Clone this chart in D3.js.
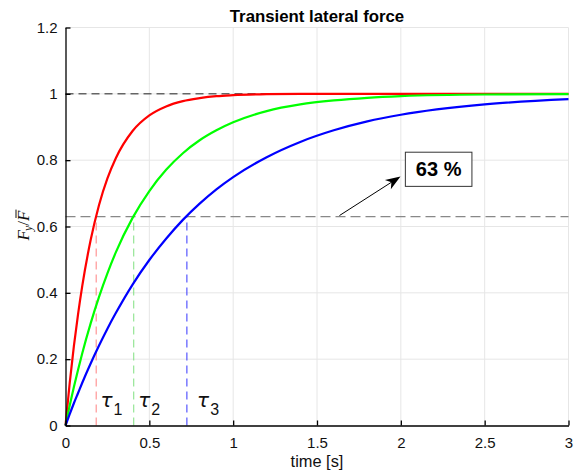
<!DOCTYPE html>
<html><head><meta charset="utf-8">
<script src="https://cdn.jsdelivr.net/npm/d3@7"></script>
<style>body{margin:0;background:#fff}svg{display:block}</style>
</head><body>
<script>
// ---- data ----
const time   = [0,0.025,0.05,0.075,0.1,0.15,0.2,0.25,0.3,0.4,0.5,0.6,0.7,0.8,0.9,1.0,1.2,1.4,1.6,1.8,2.0,2.5,3.0];
const redY   = [0,0.128,0.239,0.336,0.421,0.559,0.665,0.745,0.806,0.888,0.935,0.962,0.978,0.987,0.993,0.996,0.999,1.0,1.0,1.0,1.0,1.0,1.0];
const greenY = [0,0.060,0.116,0.168,0.218,0.308,0.388,0.459,0.522,0.626,0.707,0.771,0.821,0.860,0.890,0.914,0.948,0.968,0.980,0.988,0.993,0.998,0.999];
const blueY  = [0,0.034,0.067,0.098,0.129,0.187,0.241,0.292,0.339,0.425,0.499,0.563,0.620,0.669,0.712,0.749,0.809,0.855,0.890,0.917,0.937,0.968,0.984];
const tauValues = [0.183,0.407,0.724];
const tauColors = ["#ff8080","#80e080","#3333ff"];
const tauLabels = ["1","2","3"];
const tauLabelX = [0.209,0.434,0.785];
const level63 = 0.63;
const xTicks = [0,0.5,1,1.5,2,2.5,3];
const xTickLabels = ["0","0.5","1","1.5","2","2.5","3"];
const yTicks = [0,0.2,0.4,0.6,0.8,1,1.2];
const yTickLabels = ["0","0.2","0.4","0.6","0.8","1","1.2"];
const annotText = "63 %";

const W=578,H=475;
const svg=d3.select("body").append("svg").attr("width",W).attr("height",H);
const x=d3.scaleLinear().domain([0,3]).range([65.5,568.5]);
const y=d3.scaleLinear().domain([0,1.2]).range([425.5,27.5]);
const font="'Liberation Sans', Arial, Helvetica, sans-serif";

// grid
const g=svg.append("g");
g.selectAll(".gx").data(xTicks.slice(1)).enter().append("line")
 .attr("x1",d=>x(d)).attr("x2",d=>x(d)).attr("y1",y(0)).attr("y2",y(1.2))
 .attr("stroke","#e6e6e6").attr("stroke-width",1);
g.selectAll(".gy").data(yTicks.slice(1)).enter().append("line")
 .attr("x1",x(0)).attr("x2",x(3)).attr("y1",d=>y(d)).attr("y2",d=>y(d))
 .attr("stroke","#e6e6e6").attr("stroke-width",1);

// reference lines
svg.append("line").attr("x1",x(0)).attr("x2",x(3)).attr("y1",y(1)).attr("y2",y(1))
 .attr("stroke","#222").attr("stroke-width",1).attr("stroke-dasharray","8,5");
svg.append("line").attr("x1",x(0)).attr("x2",x(3)).attr("y1",y(level63)).attr("y2",y(level63))
 .attr("stroke","#888").attr("stroke-width",1.3).attr("stroke-dasharray","10,5");
tauValues.forEach((t,i)=>{
  svg.append("line").attr("x1",x(t)).attr("x2",x(t)).attr("y1",y(0)).attr("y2",y(level63))
   .attr("stroke",tauColors[i]).attr("stroke-width",1).attr("stroke-dasharray","8,5");
});

// curves
const line=d3.line().x(d=>x(d[0])).y(d=>y(d[1])).curve(d3.curveMonotoneX);
[[redY,"#ff0000"],[greenY,"#00ff00"],[blueY,"#0000ff"]].forEach(([ys,c])=>{
  svg.append("path").datum(time.map((t,i)=>[t,ys[i]])).attr("d",line)
   .attr("fill","none").attr("stroke",c).attr("stroke-width",2.2);
});

// axes
const xa=d3.axisBottom(x).tickValues(xTicks).tickFormat((d,i)=>xTickLabels[i]).tickSizeInner(-5).tickSizeOuter(0).tickPadding(12);
const ya=d3.axisLeft(y).tickValues(yTicks).tickFormat((d,i)=>yTickLabels[i]).tickSizeInner(-5).tickSizeOuter(0).tickPadding(8);
const gx=svg.append("g").attr("transform",`translate(0,${y(0)})`).call(xa);
const gy=svg.append("g").attr("transform",`translate(${x(0)},0)`).call(ya);
[gx,gy].forEach(a=>{
  a.select(".domain").attr("stroke","#000").attr("stroke-width",1.3);
  a.selectAll(".tick line").attr("stroke","#000").attr("stroke-width",1.3);
  a.selectAll(".tick text").attr("font-family",font).attr("font-size",15).attr("fill","#111");
});

// tau labels
tauLabels.forEach((s,i)=>{
  const t=svg.append("text").attr("x",x(tauLabelX[i])).attr("y",y(0)-19)
   .attr("font-family","'DejaVu Sans', sans-serif").attr("fill","#111");
  t.append("tspan").attr("font-size",20).attr("font-style","italic").text("τ");
  t.append("tspan").attr("font-size",16).attr("dy",8).attr("dx",1).attr("font-family",font).text(s);
});

// annotation
const ax0=x(1.634),ay0=y(0.633),ax1=x(1.998),ay1=y(0.751);
const ang=Math.atan2(ay1-ay0,ax1-ax0);
const hl=15,hw=5.5;
svg.append("line").attr("x1",ax0).attr("y1",ay0).attr("x2",ax1-Math.cos(ang)*10).attr("y2",ay1-Math.sin(ang)*10)
 .attr("stroke","#000").attr("stroke-width",1);
const bx=ax1-Math.cos(ang)*hl, by=ay1-Math.sin(ang)*hl;
const nx=-Math.sin(ang), ny=Math.cos(ang);
const ix=ax1-Math.cos(ang)*hl*0.72, iy=ay1-Math.sin(ang)*hl*0.72;
svg.append("path").attr("d",`M${ax1},${ay1}L${bx+nx*hw},${by+ny*hw}L${ix},${iy}L${bx-nx*hw},${by-ny*hw}Z`).attr("fill","#000");
const rx0=x(2.027),rx1=x(2.424),ry0=y(0.824),ry1=y(0.721);
svg.append("rect").attr("x",rx0).attr("y",ry0).attr("width",rx1-rx0).attr("height",ry1-ry0)
 .attr("fill","#fff").attr("stroke","#333").attr("stroke-width",1);
svg.append("text").attr("x",(rx0+rx1)/2).attr("y",(ry0+ry1)/2+7).attr("text-anchor","middle")
 .attr("font-family",font).attr("font-weight","bold").attr("font-size",20).attr("fill","#000").text(annotText);

// title and labels
svg.append("text").attr("x",(x(0)+x(3))/2).attr("y",22).attr("text-anchor","middle")
 .attr("font-family",font).attr("font-weight","bold").attr("font-size",16.8).attr("fill","#000").text("Transient lateral force");
svg.append("text").attr("x",(x(0)+x(3))/2).attr("y",467).attr("text-anchor","middle")
 .attr("font-family",font).attr("font-size",16.4).attr("fill","#111").text("time [s]");

// y label: F_y / F-bar (rotated)
const ylg=svg.append("g").attr("transform",`translate(29,${y(0.6)-1}) rotate(-90)`);
const yl=ylg.append("text").attr("text-anchor","middle")
 .attr("font-family","'Liberation Serif','DejaVu Serif',serif").attr("font-style","italic").attr("font-size",17).attr("fill","#111");
yl.append("tspan").text("F");
yl.append("tspan").attr("font-size",12).attr("dy",3).attr("dx",-1).text("y");
yl.append("tspan").attr("dy",-3).attr("font-style","normal").text("/");
yl.append("tspan").text("F");
const n=yl.node().getNumberOfChars();
const ext=yl.node().getExtentOfChar(n-1);
ylg.append("line").attr("x1",ext.x+3).attr("x2",ext.x+ext.width+1)
 .attr("y1",ext.y+2).attr("y2",ext.y+2).attr("stroke","#111").attr("stroke-width",1);
</script>
</body></html>
